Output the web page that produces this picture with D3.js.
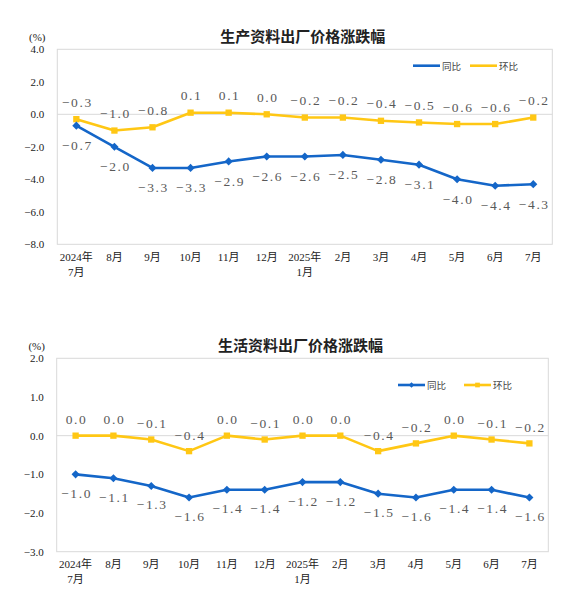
<!DOCTYPE html>
<html><head><meta charset="utf-8">
<script src="https://cdn.jsdelivr.net/npm/d3@7"></script>
<style>
html,body{margin:0;padding:0;background:#fff;}
svg{display:block;}
</style></head>
<body>
<svg id="c" width="581" height="604"></svg>
<script>
const months = ["2024年|7月","8月","9月","10月","11月","12月","2025年|1月","2月","3月","4月","5月","6月","7月"];
const prodYoY = [-0.7,-2.0,-3.3,-3.3,-2.9,-2.6,-2.6,-2.5,-2.8,-3.1,-4.0,-4.4,-4.3];
const prodMoM = [-0.3,-1.0,-0.8,0.1,0.1,0.0,-0.2,-0.2,-0.4,-0.5,-0.6,-0.6,-0.2];
const lifeYoY = [-1.0,-1.1,-1.3,-1.6,-1.4,-1.4,-1.2,-1.2,-1.5,-1.6,-1.4,-1.4,-1.6];
const lifeMoM = [0.0,0.0,-0.1,-0.4,0.0,-0.1,0.0,0.0,-0.4,-0.2,0.0,-0.1,-0.2];
const prodTicks = [4,2,0,-2,-4,-6,-8];
const lifeTicks = [2,1,0,-1,-2,-3];
const titles = ["生产资料出厂价格涨跌幅","生活资料出厂价格涨跌幅"];
const seriesNames = ["同比","环比"];

const BLUE = "#1466C8", YELLOW = "#FFC714", LBL = "#595959";
const svg = d3.select("#c");

function chart(cfg){
  const g = svg.append("g");
  const x = d3.scaleBand().domain(months).range([cfg.left, cfg.right]);
  const y = d3.scaleLinear().domain([cfg.ticks[cfg.ticks.length-1], cfg.ticks[0]]).range([cfg.bottom, cfg.top]);
  const cx = m => x(m) + x.bandwidth()/2;

  // plot border
  g.append("rect").attr("x",cfg.left).attr("y",cfg.top)
   .attr("width",cfg.right-cfg.left).attr("height",cfg.bottom-cfg.top)
   .attr("fill","none").attr("stroke","#d9d9d9").attr("stroke-width",1);
  // zero line
  g.append("line").attr("x1",cfg.left).attr("x2",cfg.right)
   .attr("y1",y(0)).attr("y2",y(0)).attr("stroke","#d9d9d9").attr("stroke-width",1);

  // y axis
  const ya = d3.axisLeft(y).tickValues(cfg.ticks).tickFormat(d3.format(".1f")).tickSize(0).tickPadding(0);
  const yg = g.append("g").attr("transform",`translate(${cfg.left-13},0)`).call(ya);
  yg.select(".domain").remove();
  yg.selectAll("text").attr("font-family","Liberation Serif").attr("font-size",11).attr("fill","#222");

  // x axis
  const xa = d3.axisBottom(x).tickSize(0).tickFormat(()=>"");
  const xg = g.append("g").attr("transform",`translate(0,${cfg.bottom})`).call(xa);
  xg.select(".domain").remove();
  xg.selectAll(".tick").each(function(d){
    const parts = d.split("|");
    const t = d3.select(this).append("text").attr("fill","#222")
      .attr("font-family","Liberation Serif, Noto Sans CJK SC").attr("font-size",11)
      .attr("text-anchor","middle");
    parts.forEach((p,i)=>{
      t.append("tspan").attr("x",0).attr("y", cfg.xLab + i*15).text(p);
    });
  });

  // title
  g.append("text").attr("x",(cfg.left+cfg.right)/2 - 2).attr("y",cfg.top-7)
   .attr("text-anchor","middle").attr("font-family","Noto Sans CJK SC").attr("font-weight","bold")
   .attr("font-size",15).attr("fill","#222").text(cfg.title);
  g.append("text").attr("x",cfg.left-20).attr("y",cfg.top-8)
   .attr("text-anchor","middle").attr("font-family","Liberation Serif").attr("font-size",11)
   .attr("fill","#222").text("(%)");

  const line = d3.line().x((d,i)=>cx(months[i])).y(d=>y(d));
  // series
  const series = [
    {data:cfg.yoy, color:BLUE, shape:"diamond", dy:cfg.yoyDy},
    {data:cfg.mom, color:YELLOW, shape:"square", dy:cfg.momDy}
  ];
  series.slice().reverse().forEach(s=>{
    g.append("path").datum(s.data).attr("d",line).attr("fill","none")
     .attr("stroke",s.color).attr("stroke-width",2.6).attr("stroke-linejoin","round");
    const sym = d3.symbol().type(s.shape==="diamond"?d3.symbolDiamond2:d3.symbolSquare).size(s.shape==="diamond"?42:40);
    g.selectAll(null).data(s.data).join("path")
     .attr("transform",(d,i)=>`translate(${cx(months[i])},${y(d)})`)
     .attr("d",sym()).attr("fill",s.color);
  });
  series.forEach(s=>{
    g.selectAll(null).data(s.data).join("text")
     .attr("x",(d,i)=>cx(months[i])+1).attr("y",d=>y(d)+s.dy)
     .attr("text-anchor","middle").attr("dominant-baseline","central")
     .attr("font-family","Liberation Serif").attr("font-size",13.5).attr("letter-spacing",1.6)
     .attr("fill",LBL).text(d=>d3.format(".1f")(d));
  });

  // legend
  const lg = g.append("g");
  [[cfg.leg[0],BLUE,"diamond",seriesNames[0]],[cfg.leg[1],YELLOW,"square",seriesNames[1]]].forEach(([lx,col,shape,name])=>{
    lg.append("line").attr("x1",lx).attr("x2",lx+27).attr("y1",cfg.legY).attr("y2",cfg.legY)
      .attr("stroke",col).attr("stroke-width",2.6);
    if(cfg.legMarkers){
      const sym = d3.symbol().type(shape==="diamond"?d3.symbolDiamond2:d3.symbolSquare).size(shape==="diamond"?20:22);
      lg.append("path").attr("transform",`translate(${lx+13.5},${cfg.legY})`).attr("d",sym()).attr("fill",col);
    }
    lg.append("text").attr("x",lx+29).attr("y",cfg.legY).attr("dominant-baseline","central")
      .attr("font-family","Noto Sans CJK SC").attr("font-size",9.5).attr("fill","#444").text(name);
  });
}

chart({left:57.3,right:552.3,top:49.3,bottom:244.3,ticks:prodTicks,yoy:prodYoY,mom:prodMoM,
  title:titles[0],xLab:17,yoyDy:20,momDy:-17,leg:[413,470],legY:65.7,legMarkers:false});
chart({left:56.7,right:548.3,top:358.3,bottom:551.7,ticks:lifeTicks,yoy:lifeYoY,mom:lifeMoM,
  title:titles[1],xLab:16,yoyDy:19,momDy:-16,leg:[398,464],legY:385,legMarkers:true});
</script>
</body></html>
